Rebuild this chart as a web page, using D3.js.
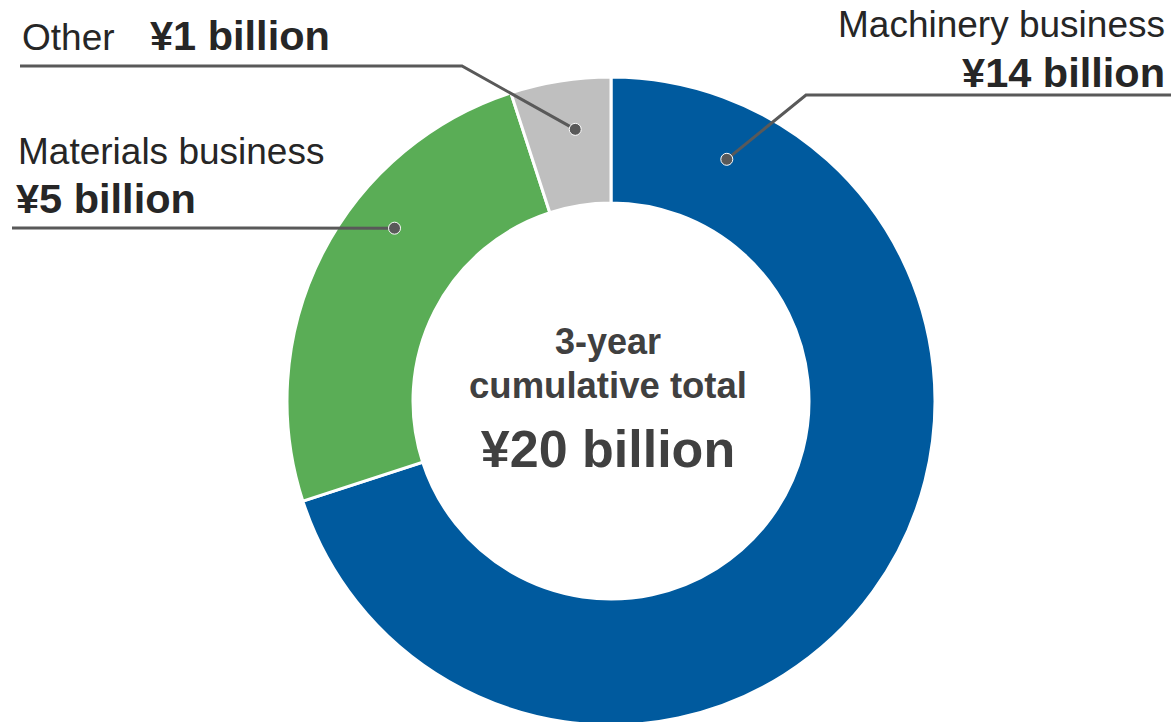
<!DOCTYPE html>
<html>
<head>
<meta charset="utf-8">
<script src="https://cdn.jsdelivr.net/npm/d3@7"></script>
<style>
  html, body { margin: 0; padding: 0; background: #fff; }
  svg { display: block; font-family: "Liberation Sans", Arial, sans-serif; }
</style>
</head>
<body>
<svg id="chart" width="1171" height="722"></svg>
<script>
// Segments of the 3-year cumulative total (¥ billion)
const segments = ["Machinery business", "Materials business", "Other"];
const amounts = [14, 5, 1];
const amountLabels = ["¥14 billion", "¥5 billion", "¥1 billion"];
const colors = ["#005a9e", "#5aad56", "#bfbfbf"];
const centerLines = ["3-year", "cumulative total"];
const totalLabel = "¥" + d3.sum(amounts) + " billion";

const width = 1171, height = 722;
const cx = 611, cy = 401;
const outerR = 324, innerR = 198;

const svg = d3.select("#chart");
const g = svg.append("g").attr("transform", `translate(${cx},${cy})`);

const pie = d3.pie().sort(null).value(d => d.value).startAngle(0).endAngle(2 * Math.PI);
const arcs = pie(segments.map((name, i) => ({ name, value: amounts[i], color: colors[i] })));
const arc = d3.arc().innerRadius(innerR).outerRadius(outerR);

g.selectAll("path.slice")
  .data(arcs)
  .join("path")
  .attr("class", "slice")
  .attr("d", arc)
  .attr("fill", d => d.data.color)
  .attr("stroke", "#fff")
  .attr("stroke-width", 3)
  .attr("stroke-linejoin", "miter");

// Centre caption
g.append("text").attr("x", -3).attr("y", 354 - cy)
  .attr("text-anchor", "middle").attr("font-weight", "bold")
  .attr("font-size", 36).attr("fill", "#404040").text(centerLines[0]);
g.append("text").attr("x", -3).attr("y", 398 - cy)
  .attr("text-anchor", "middle").attr("font-weight", "bold")
  .attr("font-size", 36.5).attr("fill", "#404040").text(centerLines[1]);
g.append("text").attr("x", -3).attr("y", 467 - cy)
  .attr("text-anchor", "middle").attr("font-weight", "bold")
  .attr("font-size", 52).attr("fill", "#404040").text(totalLabel);

// Callout layout: anchor point on the ring (angle in degrees clockwise from top, radius),
// elbow and line end, plus text placement for each segment
const callouts = [
  { angle: 25.6, r: 268, elbow: [806, 95], end: [1171, 95],
    name: { x: 1165, y: 37, anchor: "end" }, amount: { x: 1165, y: 87, anchor: "end" } },
  { angle: 308.6, r: 277, elbow: null, end: [12, 228],
    name: { x: 18, y: 164, anchor: "start" }, amount: { x: 16, y: 213, anchor: "start" } },
  { angle: 352.5, r: 274, elbow: [462, 66], end: [20, 66],
    name: { x: 22, y: 50, anchor: "start" }, amount: { x: 150, y: 50, anchor: "start" } }
];

const lineColor = "#595959";
const callG = svg.append("g");
callouts.forEach((c, i) => {
  const a = c.angle * Math.PI / 180;
  const px = cx + c.r * Math.sin(a);
  const py = cy - c.r * Math.cos(a);
  const pts = [[px, py]];
  if (c.elbow) pts.push(c.elbow);
  pts.push(c.end);
  callG.append("path")
    .attr("d", d3.line()(pts))
    .attr("fill", "none")
    .attr("stroke", lineColor)
    .attr("stroke-width", 3);
  callG.append("circle")
    .attr("cx", px).attr("cy", py).attr("r", 6)
    .attr("fill", lineColor)
    .attr("stroke", "#fff").attr("stroke-width", 1);

  callG.append("text")
    .attr("x", c.name.x).attr("y", c.name.y)
    .attr("text-anchor", c.name.anchor)
    .attr("font-size", 37).attr("fill", "#262626")
    .text(i === 2 ? "Other" : segments[i]);
  callG.append("text")
    .attr("x", c.amount.x).attr("y", c.amount.y)
    .attr("text-anchor", c.amount.anchor)
    .attr("font-size", 41.5).attr("font-weight", "bold").attr("fill", "#262626")
    .text(amountLabels[i]);
});
</script>
</body>
</html>
